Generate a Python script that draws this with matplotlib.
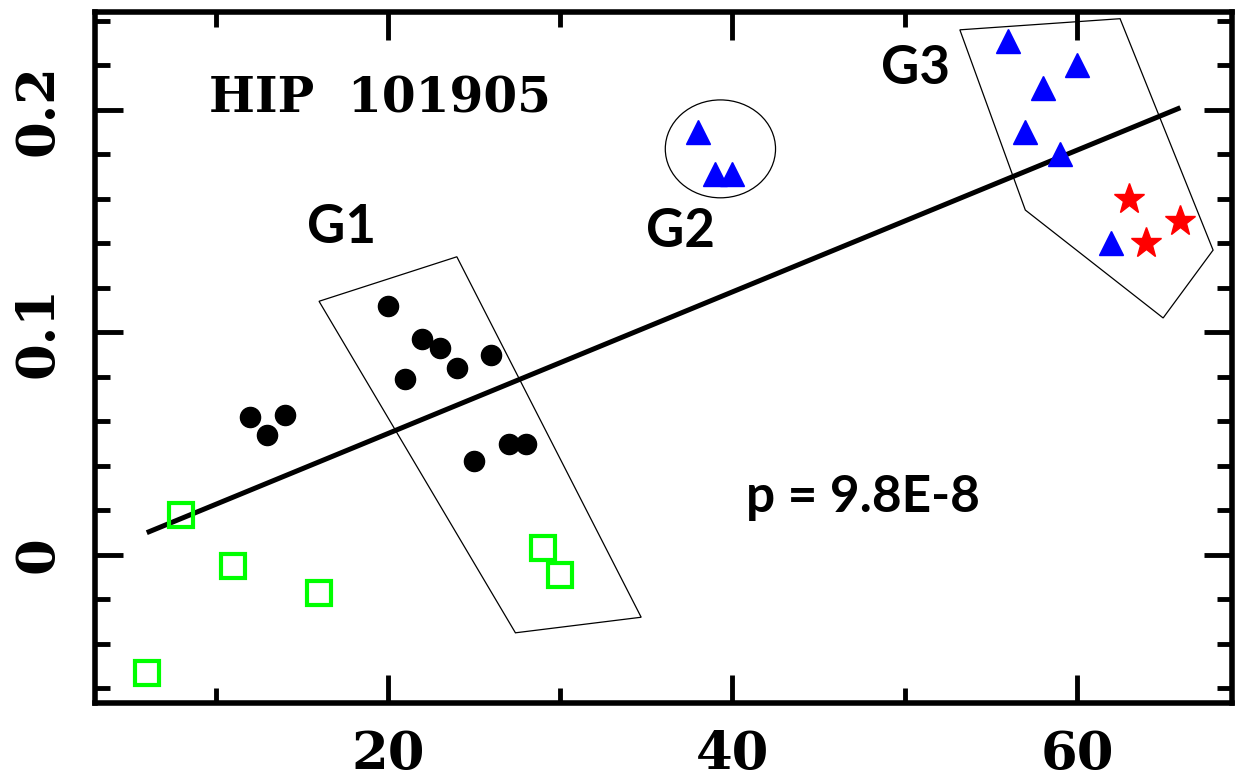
import numpy as np
import matplotlib
matplotlib.use("Agg")
import matplotlib.pyplot as plt
from matplotlib.patches import Ellipse, Polygon
from matplotlib.ticker import MultipleLocator

# green open squares
sq_x = [6, 8, 11, 16, 29, 30]
sq_y = [-0.053, 0.018, -0.005, -0.017, 0.003, -0.009]

# black filled circles (G1 and neighbours)
dot_x = [12, 13, 14, 20, 21, 22, 23, 24, 25, 26, 27, 28]
dot_y = [0.062, 0.054, 0.063, 0.112, 0.079, 0.097, 0.093, 0.084, 0.042, 0.090, 0.050, 0.050]

# blue triangles (G2 and G3)
tri_x = [38, 39, 40, 56, 57, 58, 59, 60, 62]
tri_y = [0.190, 0.171, 0.171, 0.231, 0.190, 0.210, 0.180, 0.220, 0.140]

# red stars
star_x = [63, 64, 66]
star_y = [0.160, 0.140, 0.150]

# fitted line end points
fit_x = [6, 66]
fit_y = [0.010, 0.201]

# group outlines
g1_box = [(16.0, 0.114), (24.0, 0.134), (34.7, -0.028), (27.4, -0.035)]
g3_box = [(53.2, 0.236), (62.5, 0.241), (67.9, 0.137), (65.0, 0.1065), (57.0, 0.155)]
g2_center, g2_w, g2_h = (39.3, 0.1825), 6.4, 0.044

fig = plt.figure(figsize=(12.35, 7.81), dpi=100)
ax = fig.add_axes([0.077, 0.1, 0.9206, 0.8846])

ax.plot(fit_x, fit_y, color="black", lw=3.6, solid_capstyle="butt", zorder=2)
ax.plot(sq_x, sq_y, "s", ms=17, mfc="none", mec="#00ff00", mew=3, zorder=3)
ax.plot(dot_x, dot_y, "o", ms=14.5, color="black", zorder=3)
ax.plot(tri_x, tri_y, "^", ms=17, color="#0000ff", zorder=3)
ax.plot(star_x, star_y, "*", ms=23, color="#ff0000", zorder=3)

ax.add_patch(Polygon(g1_box, closed=True, fill=False, ec="black", lw=0.9))
ax.add_patch(Polygon(g3_box, closed=True, fill=False, ec="black", lw=0.9))
ax.add_patch(Ellipse(g2_center, g2_w, g2_h, fill=False, ec="black", lw=0.9))

ax.text(9.6, 0.205, "HIP  101905", fontsize=35, family="DejaVu Serif",
        weight="bold", ha="left", va="center")
lab = dict(fontsize=38, family="Lato", weight="bold", ha="center", va="center")
ax.text(17.3, 0.147, "G1", **lab)
ax.text(37.0, 0.1455, "G2", **lab)
ax.text(50.6, 0.2185, "G3", **lab)
ax.text(47.6, 0.026, "p = 9.8E-8", fontsize=37, family="Lato", weight="bold",
        ha="center", va="center")

ax.set_xlim(3, 69)
ax.set_ylim(-0.0665, 0.244)
ax.xaxis.set_major_locator(MultipleLocator(20))
ax.xaxis.set_minor_locator(MultipleLocator(10))
ax.yaxis.set_major_locator(MultipleLocator(0.1))
ax.yaxis.set_minor_locator(MultipleLocator(0.02))
ax.yaxis.set_major_formatter(plt.FuncFormatter(lambda v, p: "0" if abs(v) < 1e-9 else "%g" % v))

ax.tick_params(which="both", direction="in", top=True, right=True, width=3.5)
ax.tick_params(which="major", length=20, labelsize=38)
ax.tick_params(axis="x", which="major", pad=19)
ax.tick_params(axis="y", which="major", pad=23)
ax.tick_params(which="minor", length=11)
for t in ax.get_xticklabels() + ax.get_yticklabels():
    t.set_family("DejaVu Serif")
    t.set_weight("bold")
for t in ax.get_yticklabels():
    t.set_rotation(90)
    t.set_va("center")
for s in ax.spines.values():
    s.set_linewidth(4)

fig.savefig("out.png", dpi=100)
